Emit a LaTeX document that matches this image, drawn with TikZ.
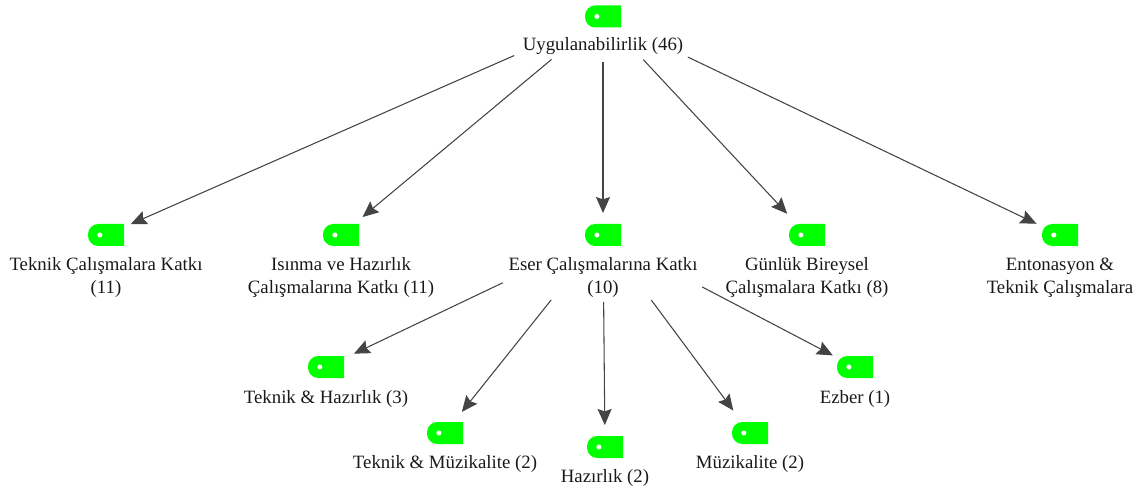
\documentclass[tikz,border=0pt]{standalone}
\usepackage{fontspec}
\setmainfont{Liberation Serif}
\usetikzlibrary{arrows.meta}
\definecolor{tagGreen}{RGB}{0,255,0}
\definecolor{edgeGray}{RGB}{68,68,68}
\definecolor{textGray}{RGB}{25,25,25}
\tikzset{
  tagnode/.style={minimum width=27pt,minimum height=16.5pt,inner sep=0pt,
    path picture={
      \fill[tagGreen] (path picture bounding box.south west) ++(7.7pt,0)
        arc[start angle=270,end angle=180,radius=7.7pt] -- ++(0,1.1pt)
        arc[start angle=180,end angle=90,radius=7.7pt]
        -- (path picture bounding box.north east) -- (path picture bounding box.south east) -- cycle;
      \fill[white] (path picture bounding box.center) ++(-4.6pt,0) circle[radius=1.9pt];
    }},
  lab/.style={font=\fontsize{14.1pt}{17.3pt}\selectfont,text=textGray,align=center,inner sep=0pt},
  arr/.style n args={2}{draw=edgeGray,line width=0.8pt,
    -{Stealth[length=12pt,width=10.5pt,inset=1.8pt]},
    shorten <=#1*0.75pt,shorten >=#2*0.75pt},
}
\begin{document}
\begin{tikzpicture}[x=0.75pt,y=-0.75pt]
\useasboundingbox (0,0) rectangle (1138,488);
\node[tagnode] (t0) at (603,16.5) {};
\node[lab] (l0) at (603,46.5) {Uygulanabilirlik (46)};
\node[tagnode] (t1) at (106,235) {};
\node[lab] (l1) at (106,277.5) {Teknik Çalışmalara Katkı\\(11)};
\node[tagnode] (t2) at (341,235) {};
\node[lab] (l2) at (341,277.5) {Isınma ve Hazırlık\\Çalışmalarına Katkı (11)};
\node[tagnode] (t3) at (603,235) {};
\node[lab] (l3) at (603,277.5) {Eser Çalışmalarına Katkı\\(10)};
\node[tagnode] (t4) at (807,235) {};
\node[lab] (l4) at (807,277.5) {Günlük Bireysel\\Çalışmalara Katkı (8)};
\node[tagnode] (t5) at (1060,235) {};
\node[lab] (l5) at (1060,277.5) {Entonasyon \&\\Teknik Çalışmalara};
\node[tagnode] (t6) at (326,367) {};
\node[lab] (l6) at (326,399) {Teknik \& Hazırlık (3)};
\node[tagnode] (t7) at (445,433) {};
\node[lab] (l7) at (445,464) {Teknik \& Müzikalite (2)};
\node[tagnode] (t8) at (605,447) {};
\node[lab] (l8) at (605,478) {Hazırlık (2)};
\node[tagnode] (t9) at (750,433) {};
\node[lab] (l9) at (750,464) {Müzikalite (2)};
\node[tagnode] (t10) at (855,367) {};
\node[lab] (l10) at (855,399) {Ezber (1)};
\draw[arr={97}{27}] (t0.center) -- (t1.center);
\draw[arr={67}{28}] (t0.center) -- (t2.center);
\draw[arr={46}{22}] (t0.center) -- (t3.center);
\draw[arr={59}{29}] (t0.center) -- (t4.center);
\draw[arr={94}{26}] (t0.center) -- (t5.center);
\draw[arr={111}{31}] (t3.center) -- (t6.center);
\draw[arr={83}{27}] (t3.center) -- (t7.center);
\draw[arr={67}{22}] (t3.center) -- (t8.center);
\draw[arr={81}{28}] (t3.center) -- (t9.center);
\draw[arr={112}{25}] (t3.center) -- (t10.center);
\end{tikzpicture}
\end{document}
